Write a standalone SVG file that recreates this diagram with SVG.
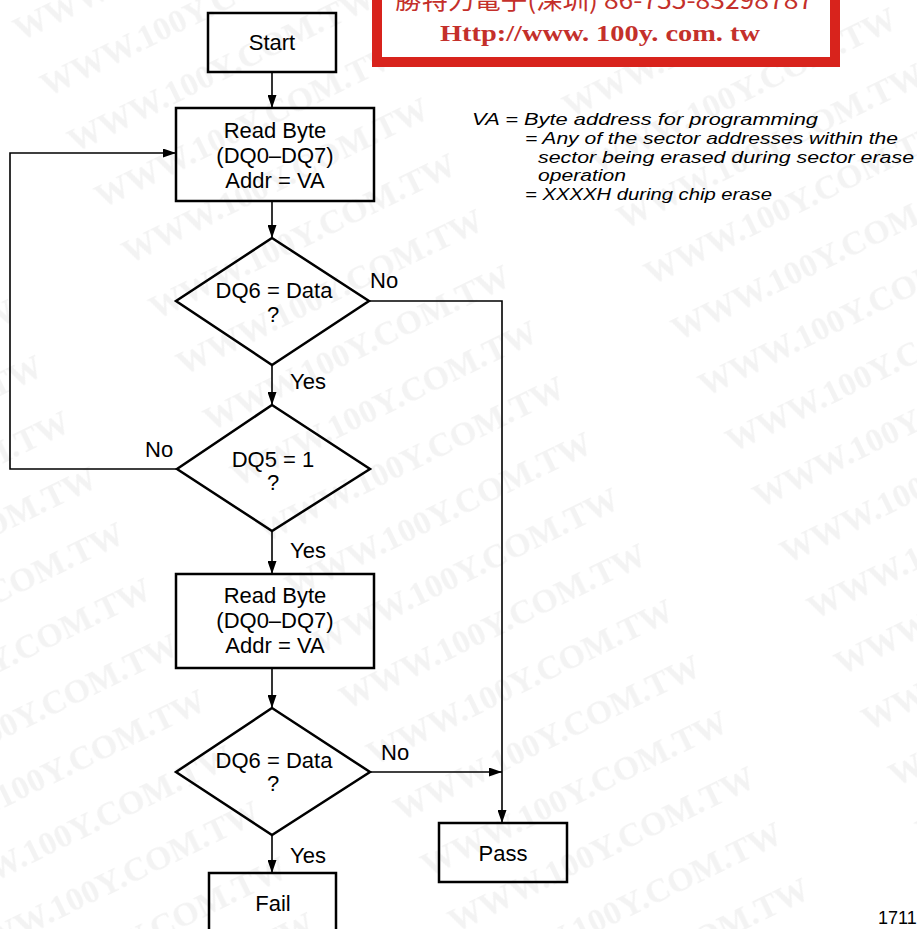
<svg xmlns="http://www.w3.org/2000/svg" width="917" height="929" viewBox="0 0 917 929">
<style>
.box{fill:none;stroke:#000;stroke-width:2.5}
.t{font-family:"Liberation Sans",Arial,sans-serif;font-size:22px;fill:#000;text-anchor:middle}
.lab{font-family:"Liberation Sans",Arial,sans-serif;font-size:22px;fill:#000}
.pg{font-family:"Liberation Sans",Arial,sans-serif;font-size:18px;fill:#000}
.leg{font-family:"Liberation Sans",Arial,sans-serif;font-size:17px;font-style:italic;fill:#000}
.c{fill:none;stroke:#000;stroke-width:1.6}
.wm{font-family:"Liberation Serif",serif;font-weight:bold;font-size:34px;fill:#f3f3f3}
</style>
<defs>
<marker id="ah" markerUnits="userSpaceOnUse" markerWidth="14" markerHeight="9" refX="13" refY="4.5" orient="auto">
<path d="M0,0 L13,4.5 L0,9 Z" fill="#000"/>
</marker>
<pattern id="wmp" patternUnits="userSpaceOnUse" width="460" height="62" patternTransform="rotate(-26)">
<text class="wm" x="0" y="46">WWW.100Y.COM.TW</text>
</pattern>
</defs>
<rect width="917" height="929" fill="#fff"/>
<rect width="917" height="929" fill="url(#wmp)"/>
<g id="banner">
<rect x="377" y="-10" width="458" height="72" fill="#fff" stroke="#d8231c" stroke-width="10"/>
<text x="395" y="9" font-family="'Noto Sans CJK TC',sans-serif" font-size="24" fill="#c4302b" textLength="418" lengthAdjust="spacingAndGlyphs">勝特力電子(深圳) 86-755-83298787</text>
<text x="440" y="41" font-family="'Liberation Serif',serif" font-weight="bold" font-size="24" fill="#c4302b" textLength="320" lengthAdjust="spacingAndGlyphs">Http://www. 100y. com. tw</text>
</g>
<g id="connectors">
<line class="c" x1="272" y1="72" x2="272" y2="108" marker-end="url(#ah)"/>
<line class="c" x1="272" y1="201" x2="272" y2="238" marker-end="url(#ah)"/>
<line class="c" x1="272" y1="365" x2="272" y2="405" marker-end="url(#ah)"/>
<polyline class="c" points="369,301 502,301 502,823" marker-end="url(#ah)"/>
<polyline class="c" points="177,469 10,469 10,153 176,153" marker-end="url(#ah)"/>
<line class="c" x1="272" y1="531" x2="272" y2="574" marker-end="url(#ah)"/>
<line class="c" x1="272" y1="668" x2="272" y2="708" marker-end="url(#ah)"/>
<line class="c" x1="370" y1="772" x2="502" y2="772" marker-end="url(#ah)"/>
<line class="c" x1="272" y1="835" x2="272" y2="873" marker-end="url(#ah)"/>
<text class="lab" x="370" y="288">No</text>
<text class="lab" x="290" y="389">Yes</text>
<text class="lab" x="145" y="457">No</text>
<text class="lab" x="290" y="558">Yes</text>
<text class="lab" x="381" y="760">No</text>
<text class="lab" x="290" y="863">Yes</text>
</g>
<g id="start">
<rect class="box" x="208" y="13" width="128" height="59"/>
<text class="t" x="272" y="50">Start</text>
</g>
<g id="read1">
<rect class="box" x="176" y="108" width="198" height="93"/>
<text class="t" x="275" y="138">Read Byte</text>
<text class="t" x="275" y="163">(DQ0–DQ7)</text>
<text class="t" x="275" y="188">Addr = VA</text>
</g>
<g id="dq6a">
<polygon class="box" points="272,238 369,301 272,365 176,301"/>
<text class="t" x="274" y="298">DQ6 = Data</text>
<text class="t" x="273" y="322">?</text>
</g>
<g id="dq5">
<polygon class="box" points="272,405 370,469 272,531 177,469"/>
<text class="t" x="273" y="467">DQ5 = 1</text>
<text class="t" x="273" y="490">?</text>
</g>
<g id="read2">
<rect class="box" x="176" y="574" width="198" height="94"/>
<text class="t" x="275" y="603">Read Byte</text>
<text class="t" x="275" y="628">(DQ0–DQ7)</text>
<text class="t" x="275" y="653">Addr = VA</text>
</g>
<g id="dq6b">
<polygon class="box" points="272,708 370,772 272,835 176,772"/>
<text class="t" x="274" y="768">DQ6 = Data</text>
<text class="t" x="273" y="791">?</text>
</g>
<g id="pass">
<rect class="box" x="439" y="823" width="128" height="59"/>
<text class="t" x="503" y="861">Pass</text>
</g>
<g id="fail">
<rect class="box" x="209" y="873" width="127" height="70"/>
<text class="t" x="273" y="911">Fail</text>
</g>
<g id="legend">
<text class="leg" x="472" y="125" textLength="346" lengthAdjust="spacingAndGlyphs">VA = Byte address for programming</text>
<text class="leg" x="525" y="144" textLength="373" lengthAdjust="spacingAndGlyphs">= Any of the sector addresses within the</text>
<text class="leg" x="538" y="163" textLength="376" lengthAdjust="spacingAndGlyphs">sector being erased during sector erase</text>
<text class="leg" x="538" y="181" textLength="88" lengthAdjust="spacingAndGlyphs">operation</text>
<text class="leg" x="525" y="200" textLength="247" lengthAdjust="spacingAndGlyphs">= XXXXH during chip erase</text>
</g>
<text class="pg" x="878" y="924">1711</text>
</svg>
